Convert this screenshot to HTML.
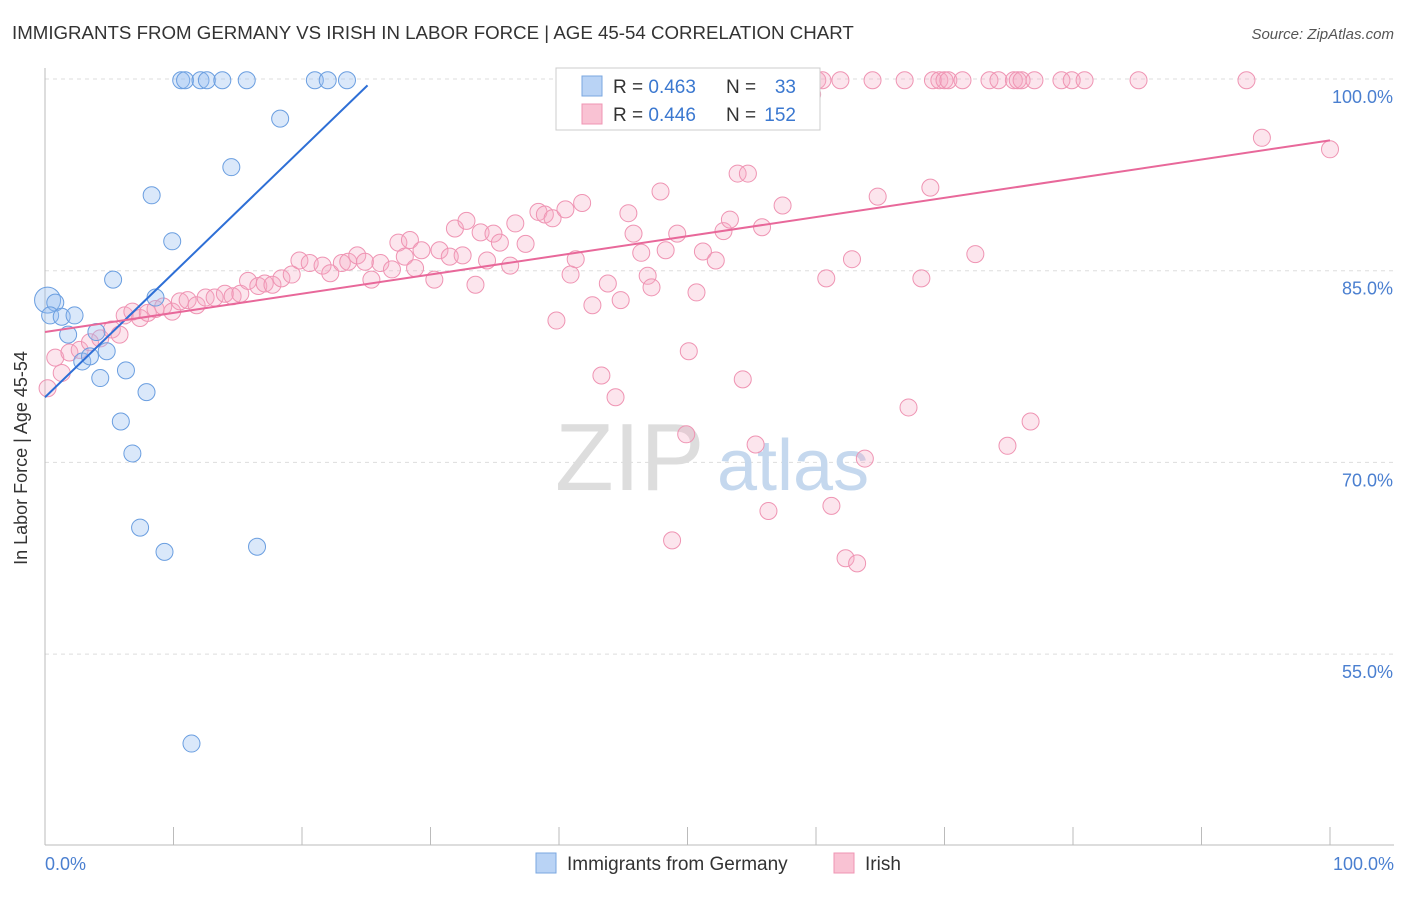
<!DOCTYPE html>
<html><head><meta charset="utf-8"><style>
body{margin:0;background:#fff;font-family:"Liberation Sans",sans-serif}
svg text{font-family:"Liberation Sans",sans-serif}
</style></head><body>
<svg width="1406" height="892" viewBox="0 0 1406 892">
<text x="12" y="39" font-size="18.7" fill="#333">IMMIGRANTS FROM GERMANY VS IRISH IN LABOR FORCE | AGE 45-54 CORRELATION CHART</text>
<text x="1394" y="39" font-size="15" fill="#555" font-style="italic" text-anchor="end">Source: ZipAtlas.com</text>
<g id="grid"></g>
<g><text x="555" y="490" font-size="96" fill="#ddd" font-family="Liberation Serif">ZIP</text><text x="717" y="490" font-size="72" fill="#c5d8ee">atlas</text></g>
<g id="axes"></g>
<g id="pts"></g>
<g id="lines"></g>
<text x="27" y="458" font-size="18" fill="#333" text-anchor="middle" transform="rotate(-90 27 458)">In Labor Force | Age 45-54</text>
<text x="45" y="870" font-size="18" fill="#4a7fd0">0.0%</text>
<text x="1394" y="870" font-size="18" fill="#4a7fd0" text-anchor="end">100.0%</text>
<g>
<rect x="556" y="68" width="264" height="62" fill="#fff" stroke="#ccc"/>
<rect x="582" y="76" width="20" height="20" fill="#b9d3f5" stroke="#7aa7e0"/>
<rect x="582" y="104" width="20" height="20" fill="#f9c2d3" stroke="#ef94b3"/>
<text x="613" y="93" font-size="19" fill="#333">R = <tspan fill="#3b78d0">0.463</tspan></text>
<text x="726" y="93" font-size="19" fill="#333">N = </text>
<text x="796" y="93" font-size="19" fill="#3b78d0" text-anchor="end">33</text>
<text x="613" y="121" font-size="19" fill="#333">R = <tspan fill="#3b78d0">0.446</tspan></text>
<text x="726" y="121" font-size="19" fill="#333">N = </text>
<text x="796" y="121" font-size="19" fill="#3b78d0" text-anchor="end">152</text>
</g>
<g>
<rect x="536" y="853" width="20" height="20" fill="#b9d3f5" stroke="#7aa7e0"/>
<text x="567" y="870" font-size="19" fill="#333">Immigrants from Germany</text>
<rect x="834" y="853" width="20" height="20" fill="#f9c2d3" stroke="#ef94b3"/>
<text x="865" y="870" font-size="19" fill="#333">Irish</text>
</g>
</svg>
<script>
const yTicks=[100,85,70,55];
const yTickLabels=["100.0%","85.0%","70.0%","55.0%"];
const xTicks=[0,10,20,30,40,50,60,70,80,90,100];
const germanyX=[0.2,0.8,0.4,1.3,2.3,1.8,4.0,2.9,3.5,4.8,4.3,6.3,7.9,5.9,6.8,7.4,9.3,16.5,11.4,5.3,8.6,9.9,8.3,14.5,18.3,10.6,10.9,12.1,12.6,13.8,15.7,21.0,22.0,23.5];
const germanyY=[82.7,82.5,81.5,81.4,81.5,80.0,80.2,77.9,78.3,78.7,76.6,77.2,75.5,73.2,70.7,64.9,63.0,63.4,48.0,84.3,82.9,87.3,90.9,93.1,96.9,99.9,99.9,99.9,99.9,99.9,99.9,99.9,99.9,99.9];
const irishX=[0.2,0.8,1.3,1.9,2.7,3.5,4.3,5.2,5.8,6.2,6.8,7.4,8.0,8.6,9.2,9.9,10.5,11.1,11.8,12.5,13.2,14.0,14.6,15.2,15.8,16.6,17.1,17.7,18.4,19.2,19.8,20.6,21.6,22.2,23.1,23.6,24.3,24.9,25.4,26.1,27.0,27.5,28.0,28.4,28.8,29.3,30.3,30.7,31.5,31.9,32.5,32.8,33.5,33.9,34.4,34.9,35.4,36.2,36.6,37.4,38.4,38.9,39.5,39.8,40.5,40.9,41.3,41.8,42.6,43.3,43.8,44.4,44.8,45.4,45.8,46.4,46.9,47.2,47.9,48.3,49.2,49.9,50.1,50.7,51.2,51.9,52.2,52.8,53.3,53.9,54.3,54.7,55.3,55.8,56.3,57.4,48.8,60.8,61.2,62.3,62.8,63.2,63.8,64.8,67.2,68.2,68.9,72.4,74.9,76.7,94.7,100,51.0,52.0,58.4,59.1,60.1,60.5,61.9,64.4,66.9,69.1,69.6,70.0,70.3,71.4,73.5,74.2,75.4,75.7,76.0,77.0,79.1,79.9,80.9,85.1,93.5,59.7,42.4];
const irishY=[75.8,78.2,77.0,78.6,78.8,79.4,79.7,80.4,80.0,81.5,81.8,81.3,81.7,82.0,82.2,81.8,82.6,82.7,82.3,82.9,82.9,83.2,83.0,83.2,84.2,83.8,84.0,83.9,84.4,84.7,85.8,85.6,85.4,84.8,85.6,85.7,86.2,85.7,84.3,85.6,85.1,87.2,86.1,87.4,85.2,86.6,84.3,86.6,86.1,88.3,86.2,88.9,83.9,88.0,85.8,87.9,87.2,85.4,88.7,87.1,89.6,89.4,89.1,81.1,89.8,84.7,85.9,90.3,82.3,76.8,84.0,75.1,82.7,89.5,87.9,86.4,84.6,83.7,91.2,86.6,87.9,72.2,78.7,83.3,86.5,97.0,85.8,88.1,89.0,92.6,76.5,92.6,71.4,88.4,66.2,90.1,63.9,84.4,66.6,62.5,85.9,62.1,70.3,90.8,74.3,84.4,91.5,86.3,71.3,73.2,95.4,94.5,99.9,99.9,99.9,99.9,99.9,99.9,99.9,99.9,99.9,99.9,99.9,99.9,99.9,99.9,99.9,99.9,99.9,99.9,99.9,99.9,99.9,99.9,99.9,99.9,99.9,98.8,97.0];
const germanyTrend=[[0,75.1],[25.1,99.5]];
const irishTrend=[[0,80.2],[100,95.2]];
const NS="http://www.w3.org/2000/svg";
const sx=v=>45+v*12.85;
const sy=v=>79+(100-v)/15*191.7;
function mk(t,a,p){const e=document.createElementNS(NS,t);for(const k in a)e.setAttribute(k,a[k]);p.appendChild(e);return e;}
const grid=document.getElementById('grid'),axes=document.getElementById('axes'),pts=document.getElementById('pts'),lines=document.getElementById('lines');
yTicks.forEach((v,i)=>{
 const l=mk('line',{x1:45,x2:1394,y1:sy(v),y2:sy(v),stroke:'#ddd','stroke-dasharray':'4,4'},grid);
 
 
 const t=mk('text',{x:1393,y:sy(v)+24,'font-size':18,fill:'#4a7fd0','text-anchor':'end'},axes);
 t.textContent=yTickLabels[i];
 
 
});
const ax=mk('line',{x1:45,x2:45,y1:68,y2:845,stroke:'#bbb'},axes);


const bx=mk('line',{x1:45,x2:1394,y1:845,y2:845,stroke:'#bbb'},axes);


xTicks.forEach(v=>{
 const l=mk('line',{x1:sx(v),x2:sx(v),y1:827,y2:845,stroke:'#bbb'},axes);
 
 
});
irishX.forEach((x,i)=>{
 const c=mk('circle',{cx:sx(x),cy:sy(irishY[i]),r:8.5,fill:'rgba(246,170,196,0.3)',stroke:'#ef94b3','stroke-width':1},pts);
 
 
});
germanyX.forEach((x,i)=>{
 const c=mk('circle',{cx:sx(x),cy:sy(germanyY[i]),r:i==0?13:8.5,fill:'rgba(150,190,240,0.35)',stroke:'#6a9ee0','stroke-width':1},pts);
 
 
});
const gl=mk('line',{x1:sx(germanyTrend[0][0]),y1:sy(germanyTrend[0][1]),x2:sx(germanyTrend[1][0]),y2:sy(germanyTrend[1][1]),stroke:'#2e6fd6','stroke-width':2},lines);


const il=mk('line',{x1:sx(irishTrend[0][0]),y1:sy(irishTrend[0][1]),x2:sx(irishTrend[1][0]),y2:sy(irishTrend[1][1]),stroke:'#e8689a','stroke-width':2},lines);


</script>
</body></html>
